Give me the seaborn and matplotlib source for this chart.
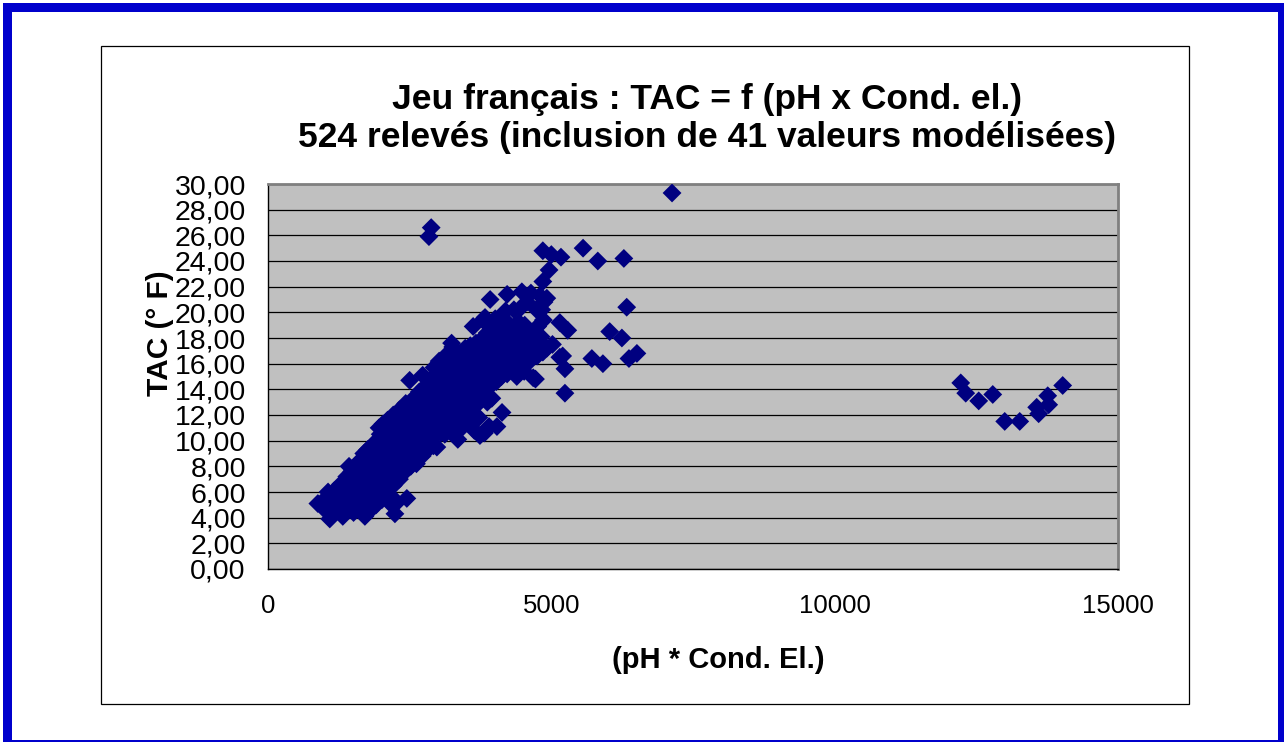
import matplotlib
matplotlib.use("Agg")
import matplotlib.pyplot as plt
from matplotlib.patches import Rectangle
from matplotlib.ticker import FuncFormatter
import numpy as np
import pandas as pd
import seaborn as sns

# ---------------- data ----------------
# main cloud, low conductivity part (pH * Cond. El. < 2000)
low_x = [880, 1010, 1040, 1060, 1090, 1120, 1140, 1170, 1210, 1230, 1260, 1280,
         1320, 1310, 1350, 1370, 1390, 1420, 1410, 1440, 1460, 1480, 1430,
         1510, 1530, 1550, 1520, 1570, 1560, 1590, 1620, 1650, 1610, 1640, 1660,
         1630, 1680, 1670, 1690, 1710, 1740, 1720, 1760, 1730, 1780, 1750, 1770,
         1790, 1760, 1810, 1830, 1850, 1820, 1870, 1840, 1860, 1880, 1890, 1850,
         1910, 1940, 1920, 1960, 1930, 1970, 1950, 1980, 1990, 1960, 1980, 1960]
low_y = [5.1, 4.6, 5.6, 6.0, 3.9, 4.2, 5.3, 6.1, 4.5, 5.0, 5.8, 6.6,
         4.1, 5.2, 6.0, 6.8, 7.2, 4.8, 5.6, 6.3, 7.0, 7.6, 8.0,
         4.4, 5.4, 6.0, 6.6, 7.2, 7.8, 8.3, 4.6, 5.2, 5.9, 6.5, 7.0,
         7.5, 8.0, 8.6, 9.0, 4.1, 4.8, 5.5, 6.2, 6.8, 7.3, 7.8, 8.3,
         8.8, 9.3, 4.6, 5.3, 6.0, 6.6, 7.2, 7.7, 8.2, 8.7, 9.2, 9.7,
         5.0, 5.8, 6.5, 7.1, 7.6, 8.1, 8.6, 9.0, 9.5, 10.0, 10.5, 11.0]

# main cloud, 2000 - 3000
mid1_x = [2010, 2040, 2020, 2060, 2030, 2070, 2050, 2080, 2090, 2040, 2060, 2030,
          2120, 2150, 2110, 2160, 2130, 2170, 2140, 2180, 2190, 2150, 2170, 2110,
          2240, 2160, 2210, 2250, 2230, 2270, 2260, 2280, 2290, 2250, 2270, 2240, 2210,
          2280, 2320, 2350, 2310, 2360, 2330, 2370, 2340, 2380, 2390, 2350, 2320,
          2450, 2420, 2460, 2410, 2470, 2430, 2480, 2440, 2490, 2450, 2470, 2430,
          2500, 2520, 2550, 2510, 2560, 2530, 2570, 2540, 2580, 2590, 2550, 2570,
          2620, 2650, 2610, 2660, 2630, 2670, 2640, 2680, 2690, 2650, 2670,
          2720, 2750, 2710, 2760, 2730, 2770, 2740, 2780, 2790, 2750, 2770, 2730,
          2840, 2820, 2850, 2810, 2860, 2830, 2870, 2840, 2880, 2890, 2850, 2870,
          2880, 2920, 2950, 2910, 2960, 2930, 2970, 2940, 2980, 2990, 2950, 2970, 2930]
mid1_y = [5.4, 6.2, 6.9, 7.5, 8.0, 8.5, 9.0, 9.4, 9.9, 10.3, 10.8, 11.3,
          5.9, 6.6, 7.3, 7.9, 8.4, 8.9, 9.3, 9.8, 10.2, 10.7, 11.1, 11.6,
          4.3, 5.1, 6.5, 7.2, 7.8, 8.4, 8.9, 9.4, 9.9, 10.4, 10.9, 11.4, 12.0,
          5.2, 7.0, 7.7, 8.3, 8.9, 9.4, 9.9, 10.4, 10.9, 11.4, 11.9, 12.4,
          5.5, 7.6, 8.2, 8.8, 9.4, 9.9, 10.4, 10.9, 11.4, 11.9, 12.4, 12.9,
          14.7, 8.0, 8.6, 9.2, 9.8, 10.3, 10.8, 11.3, 11.8, 12.3, 12.8, 13.3,
          8.2, 8.9, 9.6, 10.2, 10.8, 11.3, 11.8, 12.3, 12.8, 13.3, 13.8,
          8.8, 9.5, 10.1, 10.7, 11.2, 11.7, 12.2, 12.7, 13.2, 13.7, 14.2, 15.1,
          25.9, 9.3, 10.0, 10.6, 11.2, 11.7, 12.2, 12.7, 13.2, 13.7, 14.2, 14.8,
          26.6, 9.6, 10.4, 11.0, 11.6, 12.1, 12.6, 13.1, 13.6, 14.1, 14.6, 15.2, 15.7]

# main cloud, 3000 - 4000
mid2_x = [2980, 3050, 3010, 3060, 3030, 3070, 3040, 3080, 3090, 3050, 3070, 3020,
          3120, 3150, 3110, 3160, 3130, 3170, 3140, 3180, 3190, 3150, 3170, 3130,
          3220, 3250, 3210, 3260, 3230, 3270, 3240, 3280, 3290, 3250, 3270, 3260, 3240,
          3350, 3320, 3310, 3360, 3330, 3370, 3340, 3380, 3390, 3350, 3370, 3330,
          3420, 3450, 3410, 3460, 3430, 3470, 3440, 3480, 3490, 3450, 3470, 3480,
          3520, 3550, 3510, 3560, 3530, 3570, 3540, 3580, 3590, 3550, 3570,
          3640, 3620, 3610, 3660, 3630, 3670, 3640, 3680, 3690, 3650, 3670, 3620,
          3740, 3720, 3710, 3760, 3730, 3770, 3740, 3780, 3790, 3750, 3770, 3790,
          3820, 3870, 3810, 3860, 3830, 3870, 3840, 3880, 3890, 3850, 3870, 3830,
          3900, 3950, 3910, 3960, 3930, 3970, 3940, 3980, 3990, 3950, 3970, 3920]
mid2_y = [9.5, 10.6, 11.3, 11.9, 12.5, 13.0, 13.5, 14.0, 14.5, 15.0, 15.6, 16.2,
          10.5, 11.2, 11.8, 12.4, 13.0, 13.5, 14.0, 14.5, 15.0, 15.5, 16.0, 16.6,
          10.8, 11.5, 12.2, 12.8, 13.4, 13.9, 14.4, 14.9, 15.4, 15.9, 16.5, 17.3, 17.6,
          10.1, 11.2, 11.9, 12.6, 13.2, 13.8, 14.3, 14.8, 15.3, 15.8, 16.3, 16.8,
          11.0, 12.0, 12.7, 13.4, 14.0, 14.6, 15.1, 15.6, 16.1, 16.6, 17.1, 17.2,
          11.4, 12.3, 13.0, 13.7, 14.3, 14.9, 15.4, 15.9, 16.4, 16.9, 17.4,
          10.8, 12.0, 12.8, 13.6, 14.3, 14.9, 15.5, 16.0, 16.5, 17.0, 17.6, 18.9,
          10.4, 11.8, 12.9, 13.8, 14.6, 15.2, 15.8, 16.3, 16.8, 17.3, 17.9, 19.4,
          10.6, 13.0, 13.5, 14.4, 15.2, 15.8, 16.3, 16.8, 17.3, 17.8, 18.4, 19.6,
          11.1, 13.3, 14.2, 15.0, 15.6, 16.2, 16.7, 17.2, 17.7, 18.3, 19.0, 21.0]

# main cloud, > 4000 and scattered points
high_x = [4040, 4030, 4060, 4020, 4070, 4040, 4080, 4090, 4050, 4010,
          4130, 4120, 4150, 4110, 4160, 4130, 4170, 4140, 4180, 4190,
          4220, 4250, 4210, 4260, 4230, 4270, 4240, 4220,
          4320, 4350, 4310, 4360, 4330, 4370, 4340,
          4390, 4420, 4450, 4410, 4460, 4430, 4470, 4480,
          4520, 4550, 4510, 4560, 4530, 4570,
          4680, 4620, 4650, 4610, 4640,
          4720, 4750, 4710, 4760, 4740,
          4850, 4820, 4860, 4830, 4870, 4800, 4850, 4850,
          4920, 4920, 4960, 5020, 5000,
          5150, 5150, 5290, 5240, 5240, 5200, 5170,
          5560, 5820, 6280, 6330, 6030, 6245, 5715, 5910, 6370, 6510, 7130]
high_y = [11.1, 14.6, 15.4, 16.0, 16.6, 17.1, 17.6, 18.2, 18.8, 19.5,
          12.2, 15.0, 15.8, 16.4, 17.0, 17.6, 18.2, 18.8, 19.4, 20.1,
          15.2, 16.0, 16.7, 17.3, 17.9, 18.5, 19.1, 21.4,
          15.5, 16.3, 17.0, 17.7, 18.4, 19.0, 20.2,
          15.0, 16.0, 16.8, 17.6, 18.3, 19.2, 20.4, 21.6,
          15.4, 16.5, 17.4, 18.2, 19.0, 20.8,
          14.9, 16.2, 17.4, 18.5, 21.5,
          14.8, 16.6, 17.8, 18.9, 20.2,
          16.9, 18.1, 19.4, 20.2, 20.8, 21.3, 22.4, 24.8,
          17.2, 21.1, 23.3, 17.5, 24.5,
          16.5, 19.2, 18.6, 13.7, 15.6, 16.6, 24.3,
          25.0, 24.0, 24.2, 20.4, 18.5, 18.0, 16.4, 16.0, 16.4, 16.8, 29.3]

# isolated group at very high conductivity
far_x = [12225, 12313, 12542, 12790, 13001, 13266, 13565, 13600, 13760, 13777, 14024]
far_y = [14.5, 13.7, 13.1, 13.6, 11.5, 11.5, 12.6, 12.1, 13.5, 12.8, 14.3]

x_ticks = [0, 5000, 10000, 15000]
y_ticks = [0, 2, 4, 6, 8, 10, 12, 14, 16, 18, 20, 22, 24, 26, 28, 30]

title_1 = "Jeu français : TAC = f (pH x Cond. el.)"
title_2 = "524 relevés (inclusion de 41 valeurs modélisées)"
x_label = "(pH * Cond. El.)"
y_label = "TAC (° F)"

df = pd.DataFrame({
    "x": low_x + mid1_x + mid2_x + high_x + far_x,
    "y": low_y + mid1_y + mid2_y + high_y + far_y,
})

# ---------------- figure ----------------
sns.set_theme(style="white")
plt.rcParams["font.family"] = ["Liberation Sans", "DejaVu Sans"]
plt.rcParams["text.color"] = "black"
plt.rcParams["axes.labelcolor"] = "black"
plt.rcParams["xtick.color"] = "black"
plt.rcParams["ytick.color"] = "black"

W, H = 1284, 742
fig = plt.figure(figsize=(W / 100, H / 100), dpi=100)
fig.patch.set_facecolor("white")

def fx(px):
    return px / W

def fy(py):
    return 1 - py / H

def band(x0, y0, x1, y1, color):
    # filled rectangle given in pixel coordinates (top-left origin)
    fig.patches.append(Rectangle((fx(x0), fy(y1)), fx(x1) - fx(x0), fy(y0) - fy(y1),
                                 transform=fig.transFigure, facecolor=color,
                                 edgecolor="none", zorder=0))

# blue outer frame
frame_blue = "#0000CC"
band(3, 3, 1284, 11.5, frame_blue)     # top
band(3, 3, 12, 742, frame_blue)        # left
band(1278, 3, 1284, 742, frame_blue)   # right
band(3, 739.5, 1284, 742, frame_blue)  # bottom

# chart area frame
fig.patches.append(Rectangle((fx(100.5), fy(703.5)), fx(1188.5) - fx(100.5), fy(45.5) - fy(703.5),
                             transform=fig.transFigure, fill=False, edgecolor="black",
                             linewidth=0.9, zorder=0))

ax = fig.add_axes([fx(268), fy(569), fx(1118) - fx(268), fy(184) - fy(569)])
ax.set_facecolor("#C0C0C0")

sns.scatterplot(data=df, x="x", y="y", ax=ax, marker="D", s=92,
                color="#000080", edgecolor="none", linewidth=0, zorder=3, legend=False)

ax.set_xlim(0, 15000)
ax.set_ylim(0, 30)
ax.set_xticks(x_ticks)
ax.set_yticks(y_ticks)
ax.yaxis.set_major_formatter(FuncFormatter(lambda v, p: f"{v:.2f}".replace(".", ",")))
ax.xaxis.set_major_formatter(FuncFormatter(lambda v, p: f"{int(v)}"))

ax.yaxis.grid(True, color="black", linewidth=0.9)
ax.xaxis.grid(False)
ax.set_axisbelow(True)

for side in ("top", "right"):
    ax.spines[side].set_color("#808080")
    ax.spines[side].set_linewidth(2.0)
for side in ("left", "bottom"):
    ax.spines[side].set_color("black")
    ax.spines[side].set_linewidth(1.0)

ax.tick_params(axis="y", direction="out", length=7, width=0.8, color="black",
               labelsize=20.5, pad=9, labelcolor="black")
ax.tick_params(axis="x", direction="out", length=6, width=0.8, color="black",
               labelsize=18.5, pad=12, labelcolor="black")
ax.set_xlabel("")
ax.set_ylabel("")

fig.text(fx(707), fy(99), title_1, ha="center", va="center", fontsize=25.5,
         fontweight="bold", color="black")
fig.text(fx(707), fy(138), title_2, ha="center", va="center", fontsize=25.5,
         fontweight="bold", color="black")
fig.text(fx(718), fy(660), x_label, ha="center", va="center", fontsize=21,
         fontweight="bold", color="black")
fig.text(fx(160), fy(333), y_label, ha="center", va="center", fontsize=21.5,
         fontweight="bold", rotation=90, color="black")

fig.savefig("out.png", dpi=100)
